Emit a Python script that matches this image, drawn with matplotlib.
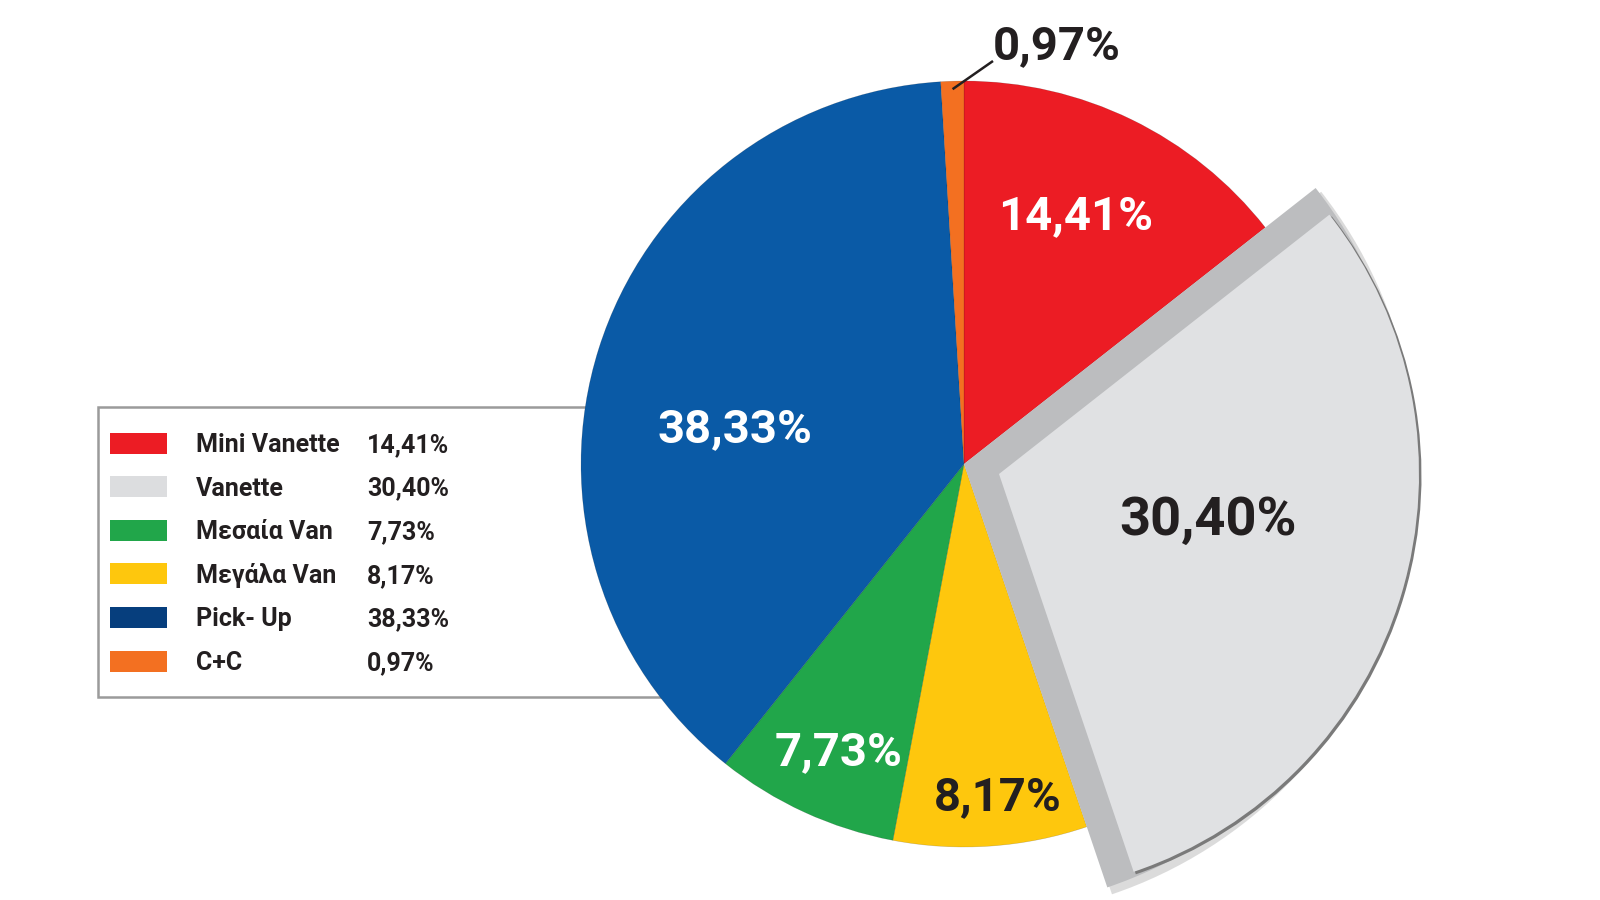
import matplotlib
matplotlib.use("Agg")
import matplotlib.pyplot as plt
from matplotlib.patches import Wedge, Rectangle
import numpy as np

# ---------------- data ----------------
categories = ["Mini Vanette", "Vanette", "Μεγάλα Van", "Μεσαία Van", "Pick- Up", "C+C"]
shares = [14.41, 30.40, 8.17, 7.73, 38.33, 0.97]
pie_colors = ["#ec1c24", "#e0e1e3", "#fec70d", "#21a64a", "#0a5aa6", "#f37021"]
label_colors = ["white", "#231f20", "#231f20", "white", "white", "#231f20"]

legend_labels = ["Mini Vanette", "Vanette", "Μεσαία Van", "Μεγάλα Van", "Pick- Up", "C+C"]
legend_values = [14.41, 30.40, 7.73, 8.17, 38.33, 0.97]
legend_colors = ["#ec1c24", "#dcdddf", "#21a64a", "#fec70d", "#063e7d", "#f37021"]


def fmt(v):
    return f"{v:.2f}".replace(".", ",") + "%"


FONT = ["Liberation Sans Narrow", "Roboto", "DejaVu Sans"]
plt.rcParams["font.family"] = FONT

W, H = 1600, 900
fig = plt.figure(figsize=(16, 9), dpi=100)
ax = fig.add_axes([0, 0, 1, 1])


def Y(y):
    return H - y


cx, cy, R = 964, 464, 383

# legend frame (behind the pie)
ax.add_patch(Rectangle((98, Y(697)), 700 - 98, 697 - 407, facecolor="white",
                       edgecolor="#9b9b9b", lw=1.8, zorder=0))

wedges, _ = ax.pie(shares, colors=pie_colors, startangle=90, counterclock=False,
                   center=(cx, Y(cy)), radius=R,
                   wedgeprops=dict(linewidth=0.4, edgecolor="#00000033"))
for w in wedges:
    w.set_zorder(2)

# exploded "Vanette" slice drawn as a raised block
vw = wedges[1]
t1, t2 = vw.theta1, vw.theta2
vw.set_visible(False)
ax.add_patch(Wedge((cx + 4, Y(cy) - 5), 449, t1, t2, facecolor="#8a8a8a", alpha=0.3,
                   lw=0, zorder=2.9))
ax.add_patch(Wedge((cx, Y(cy)), 447, t1, t2, facecolor="#bcbdbf", lw=0, zorder=3))
fx, fy, fr = cx + 35, Y(cy) - 10, 420
ax.add_patch(Wedge((fx + 2, fy - 2), fr + 0.5, t1, t2, facecolor="#7a7a7a", lw=0, zorder=3.5))
ax.add_patch(Wedge((fx, fy), fr, t1, t2, facecolor="#e0e1e3", lw=0, zorder=4))

# slice labels
label_pos = [(1076, 216), (1208, 520), (998, 797), (839, 752), (735, 429), (1057, 46)]
label_size = [34, 39, 34, 34, 34, 34]
for v, (lx, ly), c, s in zip(shares, label_pos, label_colors, label_size):
    ax.text(lx, Y(ly), fmt(v), color=c, fontsize=s, fontweight="bold",
            ha="center", va="center", zorder=6)

# leader line for the small C+C slice
ow = wedges[5]
mid = np.deg2rad((ow.theta1 + ow.theta2) / 2)
sx, sy = cx + (R - 8) * np.cos(mid), Y(cy) + (R - 8) * np.sin(mid)
ax.plot([sx, 993], [sy, Y(61)], color="#231f20", lw=1.8, zorder=6,
        solid_capstyle="butt")

# legend entries
row0, drow = 443, 43.6
for i, (lab, val, col) in enumerate(zip(legend_labels, legend_values, legend_colors)):
    yc = row0 + i * drow
    ax.add_patch(Rectangle((110, Y(yc) - 10.5), 57, 21, facecolor=col, lw=0, zorder=1))
    ax.text(196, Y(yc + 2), lab, fontsize=18, fontweight="bold", color="#231f20",
            ha="left", va="center", zorder=1)
    ax.text(367, Y(yc + 2), fmt(val), fontsize=18, fontweight="bold", color="#231f20",
            ha="left", va="center", zorder=1)

ax.set_xlim(0, W)
ax.set_ylim(0, H)
ax.set_aspect("equal")
ax.axis("off")
fig.savefig("out.png", dpi=100, facecolor="white")
